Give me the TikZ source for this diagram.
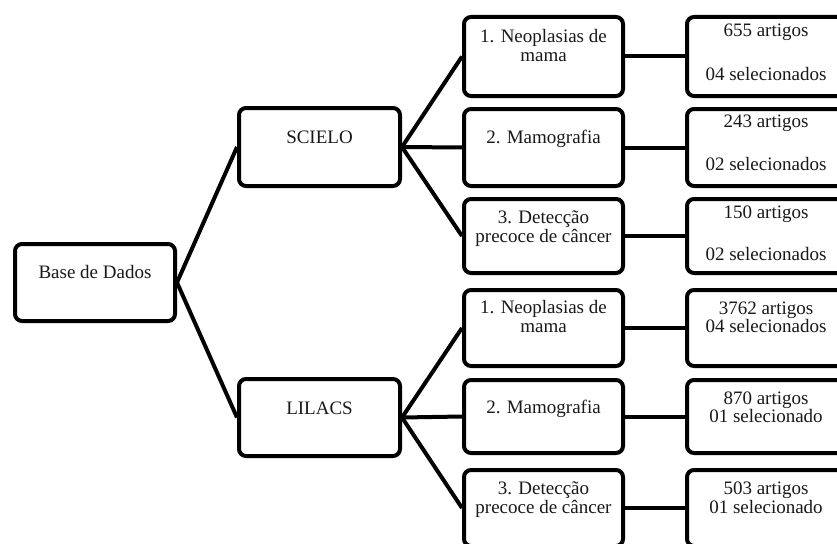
\documentclass[tikz,border=0pt]{standalone}
\usepackage{fontspec}
\setmainfont{Liberation Serif}
\begin{document}
\begin{tikzpicture}[x=1pt,y=-1pt,
  box/.style={draw=black,line width=4pt,rounded corners=7pt,fill=white,inner sep=0pt},
  mid/.style={box,minimum width=159pt},
  res/.style={box,minimum width=158pt},
  conn/.style={draw=black,line width=4pt},
  txt/.style={anchor=base,inner sep=0pt,text=black!90,font=\fontsize{19}{19}\selectfont}]
\useasboundingbox (0,0) rectangle (837,543);
% boxes
\node[box,minimum width=160pt,minimum height=77pt] (base) at (95,282.5) {};
\node[box,minimum width=161pt,minimum height=78pt] (scielo) at (319.5,147) {};
\node[box,minimum width=161pt,minimum height=77pt] (lilacs) at (319.5,417.5) {};
\node[mid,minimum height=79pt] (m1) at (543.5,56.5) {};
\node[mid,minimum height=77pt] (m2) at (543.5,147.5) {};
\node[mid,minimum height=74pt] (m3) at (543.5,236) {};
\node[mid,minimum height=76pt] (m4) at (543.5,328) {};
\node[mid,minimum height=73pt] (m5) at (543.5,416.5) {};
\node[mid,minimum height=76pt] (m6) at (543.5,508) {};
\node[res,minimum height=79pt] (r1) at (766,56.5) {};
\node[res,minimum height=77pt] (r2) at (766,147.5) {};
\node[res,minimum height=74pt] (r3) at (766,236) {};
\node[res,minimum height=76pt] (r4) at (766,328) {};
\node[res,minimum height=73pt] (r5) at (766,416.5) {};
\node[res,minimum height=76pt] (r6) at (766,508) {};
% connectors
\draw[conn] (base.east) -- (scielo.west);
\draw[conn] (base.east) -- (lilacs.west);
\foreach \m in {m1,m2,m3} \draw[conn] (scielo.east) -- (\m.west);
\foreach \m in {m4,m5,m6} \draw[conn] (lilacs.east) -- (\m.west);
\foreach \i in {1,...,6} \draw[conn] (m\i.east) -- (r\i.west);
% texts
\node[txt] (tbase) at (95,278) {Base de Dados};
\node[txt] (tscielo) at (319.5,143) {SCIELO};
\node[txt] (tlilacs) at (319.5,414) {LILACS};
\node[txt] (t1a) at (543.5,43) {1. Neoplasias de};
\node[txt] (t1b) at (543.5,62) {mama};
\node[txt] (t2) at (543.5,143) {2. Mamografia};
\node[txt] (t3a) at (543.5,223) {3. Detecção};
\node[txt] (t3b) at (543.5,242) {precoce de câncer};
\node[txt] (t4a) at (543.5,313) {1. Neoplasias de};
\node[txt] (t4b) at (543.5,332) {mama};
\node[txt] (t5) at (543.5,413) {2. Mamografia};
\node[txt] (t6a) at (543.5,494) {3. Detecção};
\node[txt] (t6b) at (543.5,513) {precoce de câncer};
\node[txt] (s1a) at (766,37) {655 artigos};
\node[txt] (s1b) at (766,80) {04 selecionados};
\node[txt] (s2a) at (766,127) {243 artigos};
\node[txt] (s2b) at (766,170) {02 selecionados};
\node[txt] (s3a) at (766,218) {150 artigos};
\node[txt] (s3b) at (766,260) {02 selecionados};
\node[txt] (s4a) at (766,314) {3762 artigos};
\node[txt] (s4b) at (766,332) {04 selecionados};
\node[txt] (s5a) at (766,404) {870 artigos};
\node[txt] (s5b) at (766,422) {01 selecionado};
\node[txt] (s6a) at (766,494) {503 artigos};
\node[txt] (s6b) at (766,513) {01 selecionado};
\end{tikzpicture}
\end{document}
